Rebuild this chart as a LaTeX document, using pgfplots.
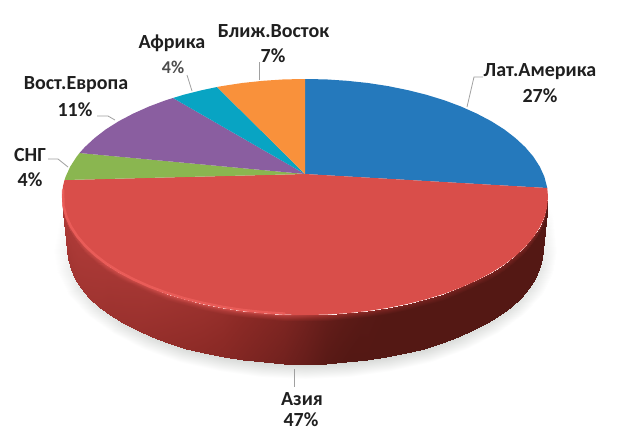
\documentclass[border=0pt]{standalone}
\usepackage{pgfplots}
\usepackage{pgfplotstable}
\usepackage{fontspec}
\setmainfont{Carlito}
\pgfplotsset{compat=1.18}
\definecolor{cblue}{RGB}{37,121,188}
\definecolor{cred}{RGB}{217,78,74}
\definecolor{cgreen}{RGB}{138,182,80}
\definecolor{cpurple}{RGB}{138,94,160}
\definecolor{cteal}{RGB}{8,164,195}
\definecolor{corange}{RGB}{249,145,59}
\definecolor{chigh}{RGB}{238,96,92}
\definecolor{cleader}{RGB}{160,160,160}
% shares of the pie, in per cent: Lat.Am 27, Asia 47, CIS 4, E.Europe 11, Africa 4, Middle East 7
\pgfplotstableread{
x y c
57 215 12
62 205 12
53 251 12
67 249 11
56.8 273.2 12
70.6 269 10.5
68.2 294.8 12
81.4 288.3 10
86.8 315 12
98.9 306.5 9.8
112 333.3 12
122.7 322.9 9.5
143 349.1 12
152 337.1 9.3
179 361.9 12
186 348.6 9.2
218.8 371.3 12
223.6 357.1 9.1
261.2 377.1 12
263.7 362.3 9
305 379 12
305 364 9
348.8 377.1 12
346.3 362.3 9
391.2 371.3 12
386.4 357.1 9
431 361.9 12
424 348.6 9
467 349.1 12
458 337.1 9.2
498 333.3 12
487.3 322.9 9.4
523.2 315 12
511.1 306.5 9.6
541.8 294.8 12
528.6 288.3 9.8
553.2 273.2 12
539.4 269 10
557 251 12
543 249 10.5
553 215 12
548 205 12
}\shadowtab
\pgfplotstableread{
x y c
62 197 7
62.9 207.3 7
65.7 217.5 7
70.3 227.5 7
76.7 237.4 7
84.8 246.9 7
94.6 256 7
105.9 264.7 7
118.9 272.9 7
133.2 280.4 7
148.8 287.4 7
165.6 293.7 7
183.5 299.2 7
202.3 303.9 7
221.9 307.9 7
242.1 311 7
262.8 313.2 7
283.8 314.6 6.5
305 315 6
326.2 314.6 5
347.2 313.2 4.4
367.9 311 3.8
388.1 307.9 3.2
407.7 303.9 2.8
426.5 299.2 2.6
444.4 293.7 2.6
461.2 287.4 2.6
476.8 280.4 2.6
491.1 272.9 2.6
504.1 264.7 2.6
515.4 256 2.6
525.2 246.9 2.6
533.3 237.4 2.6
539.7 227.5 2.6
544.3 217.5 2.6
547.1 207.3 2.6
548 197 2.6
62.6 203 6
63.5 213.3 6
66.3 223.5 6
70.9 233.5 6
77.3 243.4 6
85.4 252.9 5.9
95.1 262 5.8
106.4 270.7 5.7
119.4 278.9 5.6
133.6 286.4 5.5
149.2 293.4 5.4
166 299.7 5.2
183.8 305.2 5
202.6 309.9 4.8
222.1 313.9 4.5
242.3 317 4
262.9 319.2 3.5
283.9 320.6 3
305 321 2.2
326.1 320.6 1.2
347.1 319.2 0.6
367.7 317 0.2
387.9 313.9 0
407.4 309.9 0
426.2 305.2 0
444 299.7 0
460.8 293.4 0
476.4 286.4 0
490.6 278.9 0
503.6 270.7 0
514.9 262 0
524.6 252.9 0
532.7 243.4 0
539.1 233.5 0
543.7 223.5 0
546.5 213.3 0
547.4 203 0
67 249 5.4
67.9 259 5.4
70.6 269 5.4
75.1 278.8 5.4
81.4 288.3 5.4
89.3 297.6 5.3
98.9 306.5 5.2
110 315 5
122.7 322.9 4.9
136.7 330.3 4.8
152 337.1 4.6
168.5 343.2 4.4
186 348.6 4.2
204.4 353.2 4
223.6 357.1 3.7
243.4 360.1 3.2
263.7 362.3 2.7
284.2 363.6 2.2
305 364 1.4
325.8 363.6 0.4
346.3 362.3 0
366.6 360.1 0
386.4 357.1 0
405.6 353.2 0
424 348.6 0
441.5 343.2 0
458 337.1 0
473.3 330.3 0
487.3 322.9 0
500 315 0
511.1 306.5 0
520.7 297.6 0
528.6 288.3 0
534.9 278.8 0
539.4 269 0
542.1 259 0
543 249 0
}\sidetab
\begin{document}
\begin{tikzpicture}
\begin{axis}[
  scale only axis, width=638pt, height=432pt,
  xmin=0, xmax=638, ymin=0, ymax=432, y dir=reverse,
  hide axis, clip=false,
  point meta min=0, point meta max=12,
  colormap={pie}{rgb255(0cm)=(84,24,20); rgb255(2cm)=(110,32,29); rgb255(4cm)=(140,42,38); rgb255(6cm)=(172,58,55); rgb255(8cm)=(235,92,88); rgb255(9cm)=(214,216,214); rgb255(12cm)=(255,255,255)},
]
\path (axis cs:0,0) rectangle (axis cs:638,432);
% soft shadow
\addplot[surf, shader=interp, mesh/rows=21, mesh/cols=2, point meta=\thisrow{c}] table[x=x, y=y] {\shadowtab};
% side wall of the red slice
\addplot[surf, shader=interp, mesh/rows=3, mesh/cols=37, point meta=\thisrow{c}] table[x=x, y=y] {\sidetab};
% top faces
\addplot[draw=none, fill=cblue, no markers] coordinates {(305,174)(305,79)(326.2,79.4)(347.2,80.8)(367.9,83)(388.1,86.1)(407.7,90.1)(426.5,94.8)(444.4,100.3)(461.2,106.6)(476.8,113.6)(491.1,121.1)(504.1,129.3)(515.4,138)(525.2,147.1)(533.3,156.6)(539.7,166.5)(544.3,176.5)(547.3,188)} --cycle;
\addplot[draw=none, fill=cred, no markers] coordinates {(305,174)(547.3,188)(548,197)(547.1,207.3)(544.3,217.5)(539.7,227.5)(533.3,237.4)(525.2,246.9)(515.4,256)(504.1,264.7)(491.1,272.9)(476.8,280.4)(461.2,287.4)(444.4,293.7)(426.5,299.2)(407.7,303.9)(388.1,307.9)(367.9,311)(347.2,313.2)(326.2,314.6)(305,315)(283.8,314.6)(262.8,313.2)(242.1,311)(221.9,307.9)(202.3,303.9)(183.5,299.2)(165.6,293.7)(148.8,287.4)(133.2,280.4)(118.9,272.9)(105.9,264.7)(94.6,256)(84.8,246.9)(76.7,237.4)(70.3,227.5)(65.7,217.5)(62.9,207.3)(62,197)(62.9,186.7)(64.5,180)} --cycle;
\addplot[draw=none, fill=cgreen, no markers] coordinates {(305,174)(64.5,180)(65.7,176.5)(70.3,166.5)(76.7,156.6)(79.5,153)} --cycle;
\addplot[draw=none, fill=cpurple, no markers] coordinates {(305,174)(79.5,153)(84.8,147.1)(94.6,138)(105.9,129.3)(118.9,121.1)(133.2,113.6)(148.8,106.6)(165.6,100.3)(173,98)} --cycle;
\addplot[draw=none, fill=cteal, no markers] coordinates {(305,174)(173,98)(183.5,94.8)(202.3,90.1)(217,87)} --cycle;
\addplot[draw=none, fill=corange, no markers] coordinates {(305,174)(217,87)(221.9,86.1)(242.1,83)(262.8,80.8)(283.8,79.4)(305,79)} --cycle;
% highlight along the rim
\addplot[chigh, line width=2.5pt, opacity=.8, no markers, line cap=round] coordinates {(63,190)(63.5,206.3)(66.3,216.5)(70.9,226.5)(77.3,236.4)(85.4,245.9)(95.2,255)(106.5,263.7)(119.5,271.9)(133.8,279.4)(149.4,286.4)(166.2,292.7)(184.1,298.2)(202.9,302.9)(222.5,306.9)(242.7,310)(263.4,312.2)(284.4,313.6)};
% leader lines
\addplot[cleader, line width=.8pt, no markers] coordinates {(467,107)(474,77)(483,77)};
\addplot[cleader, line width=.8pt, no markers] coordinates {(259,80)(259,62)};
\addplot[cleader, line width=.8pt, no markers] coordinates {(192,91)(187,75)};
\addplot[cleader, line width=.8pt, no markers] coordinates {(115,120)(108,116)(97,116)};
\addplot[cleader, line width=.8pt, no markers] coordinates {(68,167)(58,159)(48,159)};
\addplot[cleader, line width=.8pt, no markers] coordinates {(294,369)(294,387)};
% labels
\begin{scope}[every node/.style={font=\fontsize{20}{22}\selectfont\bfseries, text=black!88, inner sep=0pt, anchor=center}]
\node at (axis cs:540,72) {Лат.Америка};
\node at (axis cs:540,96) {27\%};
\node at (axis cs:273.5,31) {Ближ.Восток};
\node at (axis cs:273,56) {7\%};
\node at (axis cs:172,43) {Африка};
\node[text=black!70, font=\fontsize{18}{22}\selectfont\bfseries] at (axis cs:173,67) {4\%};
\node at (axis cs:76,85) {Вост.Европа};
\node at (axis cs:75,110) {11\%};
\node at (axis cs:30,155) {СНГ};
\node at (axis cs:30,180) {4\%};
\node at (axis cs:302,399) {Азия};
\node at (axis cs:301,420) {47\%};
\end{scope}
\end{axis}
\end{tikzpicture}
\end{document}
